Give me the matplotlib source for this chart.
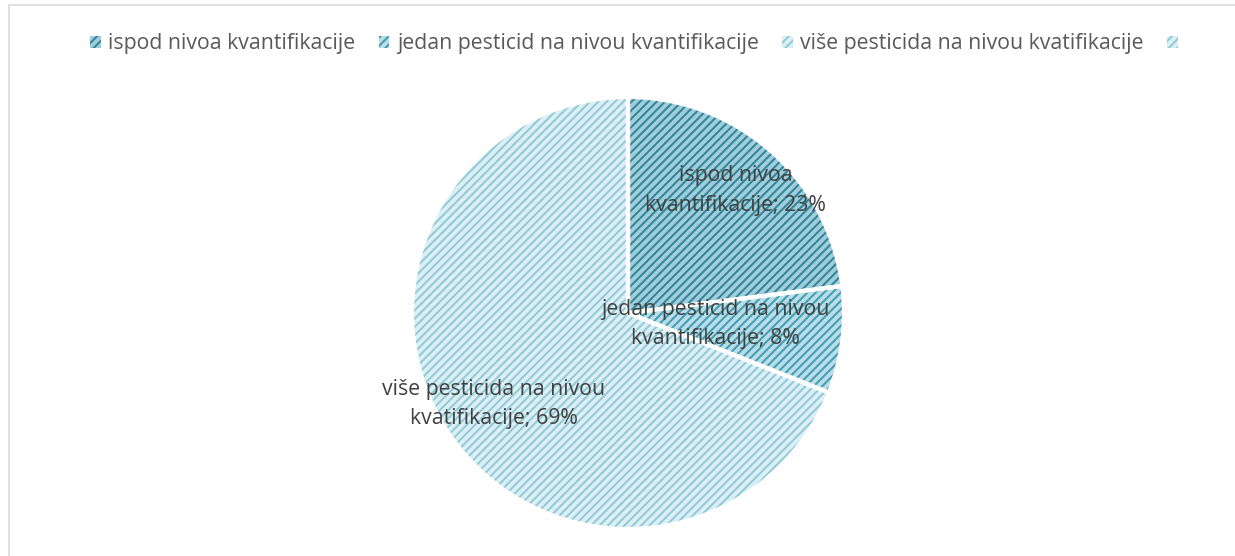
import numpy as np
import matplotlib
matplotlib.use("Agg")
import matplotlib.pyplot as plt
from matplotlib.patches import Rectangle, Patch

# podaci
kategorije = ['ispod nivoa kvantifikacije', 'jedan pesticid na nivou kvantifikacije',
              'više pesticida na nivou kvatifikacije', '']
oznake = ['ispod nivoa\nkvantifikacije; 23%', 'jedan pesticid na nivou\nkvantifikacije; 8%',
          'više pesticida na nivou\nkvatifikacije; 69%', '']
vrijednosti = [23, 8, 69, 0]

boje_pozadina = ['#9fcdda', '#b8dde7', '#dceff4', '#dceff4']
boje_crta = ['#2f8398', '#3f9cb2', '#8fc9d8', '#8fc9d8']
udaljenost_oznaka = [0.755, 0.41, 0.75, 0.5]

plt.rcParams['font.family'] = ['Open Sans', 'DejaVu Sans']
plt.rcParams['hatch.linewidth'] = 1.4

fig = plt.figure(figsize=(12.35, 5.56), dpi=100)
fig.patch.set_facecolor('white')

# okvir grafikona
fig.patches.append(Rectangle((9 / 1235, -0.1), 1.2, (556 - 5) / 556 + 0.1,
                             transform=fig.transFigure, fill=False,
                             edgecolor='#d9d9d9', linewidth=1.2))

ax = fig.add_axes([412 / 1235, 27 / 556, 432 / 1235, 432 / 556])

wedges, _ = ax.pie(vrijednosti, startangle=90, counterclock=False, radius=1,
                   colors=boje_pozadina,
                   wedgeprops=dict(linewidth=0))
for w, c in zip(wedges, boje_crta):
    w.set_hatch('////')
    w.set_edgecolor(c)

# bijele ivice
ax.pie(vrijednosti, startangle=90, counterclock=False, radius=1,
       colors=['none'] * len(vrijednosti),
       wedgeprops=dict(linewidth=3, edgecolor='white'))

for w, lab, d, v in zip(wedges, oznake, udaljenost_oznaka, vrijednosti):
    if v == 0:
        continue
    ang = np.deg2rad((w.theta1 + w.theta2) / 2)
    ax.text(d * np.cos(ang), d * np.sin(ang), lab, ha='center', va='center',
            fontsize=15.3, color='#404040', linespacing=1.55)

ax.set_xlim(-1, 1)
ax.set_ylim(-1, 1)
ax.set_aspect('equal')
ax.axis('off')

rucke = [Patch(facecolor=b, edgecolor=c, hatch='////', linewidth=0)
         for b, c in zip(boje_pozadina, boje_crta)]
fig.legend(rucke, kategorije, loc='center',
           bbox_to_anchor=(0.5 + 20 / 1235, 1 - 44 / 556),
           ncol=4, frameon=False, fontsize=15.3, labelcolor='#595959',
           handlelength=0.5, handleheight=0.5, handletextpad=0.35, columnspacing=1.1)

fig.savefig('out.png', dpi=100)
